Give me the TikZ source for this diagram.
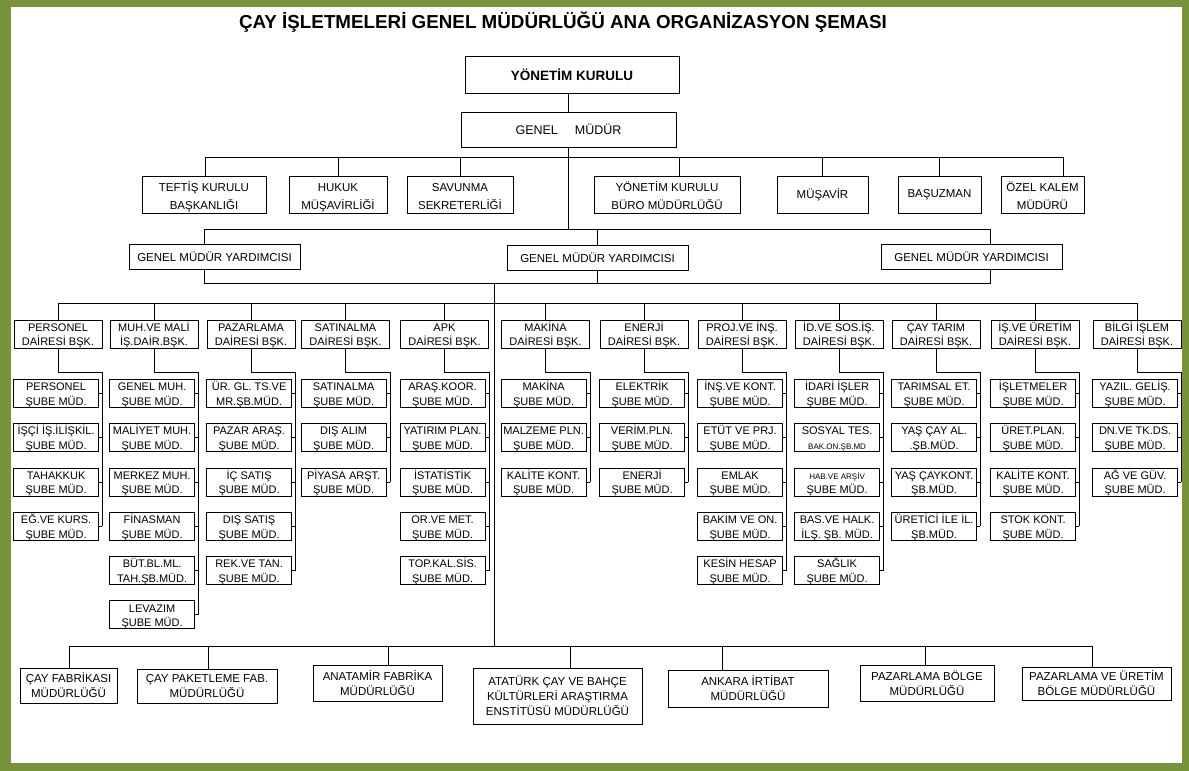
\documentclass[tikz,border=0pt]{standalone}
\usepackage{fontspec}
\setmainfont{Liberation Sans}
\usetikzlibrary{calc, positioning}
\definecolor{framegreen}{RGB}{119,147,60}

\begin{document}
\begin{tikzpicture}[x=1pt, y=-1pt, line width=0.8pt,
	kutu/.style={draw, align=center, inner sep=0pt},
	danisma/.style={kutu, minimum height=37pt, font=\fontsize{11.5}{18}\selectfont},
	ikisatir/.style={text height=33pt, text depth=4pt},
	yardimci/.style={kutu, minimum height=25pt, font=\fontsize{11.5}{14}\selectfont},
	daire/.style={kutu, minimum width=88pt, minimum height=28pt, text height=25.8pt, text depth=2.2pt, font=\fontsize{11}{14.5}\selectfont},
	sube/.style={daire, minimum width=85pt, anchor=east},
	bolge/.style={kutu, font=\fontsize{11.5}{15}\selectfont}]

		% frame
		\fill[framegreen] (0,0) rectangle (1189,771);
		\fill[white] (11,7) rectangle (1182,763);
		\useasboundingbox (0,0) rectangle (1189,771);

		\node[font=\bfseries\fontsize{18.8}{22}\selectfont] (title) at (563,22) {ÇAY İŞLETMELERİ GENEL MÜDÜRLÜĞÜ ANA ORGANİZASYON ŞEMASI};

		\node[kutu, minimum width=214pt, minimum height=37pt, font=\bfseries\fontsize{13.5}{16}\selectfont] (yk) at (572,74.5) {YÖNETİM KURULU};
		\node[kutu, minimum width=215pt, minimum height=35pt, font=\fontsize{12.5}{15}\selectfont] (gm) at (568.5,129.5) {GENEL\hspace{17pt}MÜDÜR};

		% staff units
		\node[danisma, ikisatir, minimum width=124pt] (teftis) at (204,194.5) {TEFTİŞ KURULU\\BAŞKANLIĞI};
		\node[danisma, ikisatir, minimum width=98pt] (hukuk) at (338,194.5) {HUKUK\\MÜŞAVİRLİĞİ};
		\node[danisma, ikisatir, minimum width=106pt] (savunma) at (460,194.5) {SAVUNMA\\SEKRETERLİĞİ};
		\node[danisma, ikisatir, minimum width=146pt] (ykburo) at (667,194.5) {YÖNETİM KURULU\\BÜRO MÜDÜRLÜĞÜ};
		\node[danisma, minimum width=91pt] (musavir) at (822.5,194.5) {MÜŞAVİR};
		\node[danisma, minimum width=83pt] (basuzman) at (939.5,194.5) {BAŞUZMAN};
		\node[danisma, ikisatir, minimum width=83pt] (ozel) at (1042.5,194.5) {ÖZEL KALEM\\MÜDÜRÜ};

		\node[yardimci, minimum width=171pt] (gmy1) at (214.5,257) {GENEL MÜDÜR YARDIMCISI};
		\node[yardimci, minimum width=181pt] (gmy2) at (597.5,258) {GENEL MÜDÜR YARDIMCISI};
		\node[yardimci, minimum width=181pt] (gmy3) at (971.5,257) {GENEL MÜDÜR YARDIMCISI};

		\coordinate (sbar) at (0,157);
		\coordinate (ytop) at (0,229);
		\coordinate (ybar) at (0,283);
		\coordinate (dbar) at (0,303);
		\coordinate (rail) at (0,372);
		\coordinate (bbar) at (0,646);
		\coordinate (trunk) at (494,283);

		\draw (gm.north) -- (gm.north |- yk.south);
		\draw (gm.south) -- (gm.south |- ytop);
		\draw ([xshift=1pt]teftis.north) |- ([xshift=20.5pt]ozel.north |- sbar) -- ([xshift=20.5pt]ozel.north);
		\draw ([xshift=12pt]ykburo.north) -- ([xshift=12pt]ykburo.north |- sbar);
		\foreach \n in {hukuk, savunma, musavir, basuzman}
			\draw (\n.north) -- (\n.north |- sbar);

		\draw ([xshift=-10.5pt]gmy1.north) |- ([xshift=18.5pt]gmy3.north |- ytop) -- ([xshift=18.5pt]gmy3.north);
		\draw (gmy2.north) -- (gmy2.north |- ytop);
		\draw ([xshift=-10.5pt]gmy1.south) |- ([xshift=18.5pt]gmy3.south |- ybar) -- ([xshift=18.5pt]gmy3.south);
		\draw (gmy2.south) -- (gmy2.south |- ybar);

		% departments
		\node[daire] (per) at (58,334) {PERSONEL\\DAİRESİ BŞK.};
		\node[daire] (muh) at (154,334) {MUH.VE MALİ\\İŞ.DAİR.BŞK.};
		\node[daire] (paz) at (251,334) {PAZARLAMA\\DAİRESİ BŞK.};
		\node[daire] (sat) at (345.5,334) {SATINALMA\\DAİRESİ BŞK.};
		\node[daire] (apk) at (444.5,334) {APK\\DAİRESİ BŞK.};
		\node[daire] (mak) at (545.5,334) {MAKİNA\\DAİRESİ BŞK.};
		\node[daire] (ene) at (644,334) {ENERJİ\\DAİRESİ BŞK.};
		\node[daire] (pro) at (742,334) {PROJ.VE İNŞ.\\DAİRESİ BŞK.};
		\node[daire] (ids) at (839,334) {İD.VE SOS.İŞ.\\DAİRESİ BŞK.};
		\node[daire] (cay) at (936,334) {ÇAY TARIM\\DAİRESİ BŞK.};
		\node[daire] (isu) at (1035,334) {İŞ.VE ÜRETİM\\DAİRESİ BŞK.};
		\node[daire] (bil) at (1137,334) {BİLGİ İŞLEM\\DAİRESİ BŞK.};

		\draw (per.north) |- (bil.north |- dbar) -- (bil.north);
		\foreach \n in {muh, paz, sat, apk, mak, ene, pro, ids, cay, isu}
			\draw (\n.north) -- (\n.north |- dbar);

		% sub units
		\foreach \lbl [count=\i] in {{PERSONEL\\ŞUBE MÜD.}, {İŞÇİ İŞ.İLİŞKİL.\\ŞUBE MÜD.}, {TAHAKKUK\\ŞUBE MÜD.}, {EĞ.VE KURS.\\ŞUBE MÜD.}}
			\node[sube] (per\i) at (99,{349+44.3*\i}) {\lbl};
		\foreach \lbl [count=\i] in {{GENEL MUH.\\ŞUBE MÜD.}, {MALİYET MUH.\\ŞUBE MÜD.}, {MERKEZ MUH.\\ŞUBE MÜD.}, {FİNASMAN\\ŞUBE MÜD.}, {BÜT.BL.ML.\\TAH.ŞB.MÜD.}, {LEVAZIM\\ŞUBE MÜD.}}
			\node[sube] (muh\i) at (195,{349+44.3*\i}) {\lbl};
		\foreach \lbl [count=\i] in {{ÜR. GL. TS.VE\\MR.ŞB.MÜD.}, {PAZAR ARAŞ.\\ŞUBE MÜD.}, {İÇ SATIŞ\\ŞUBE MÜD.}, {DIŞ SATIŞ\\ŞUBE MÜD.}, {REK.VE TAN.\\ŞUBE MÜD.}}
			\node[sube] (paz\i) at (292,{349+44.3*\i}) {\lbl};
		\foreach \lbl [count=\i] in {{SATINALMA\\ŞUBE MÜD.}, {DIŞ ALIM\\ŞUBE MÜD.}, {PİYASA ARŞT.\\ŞUBE MÜD.}}
			\node[sube] (sat\i) at (386.5,{349+44.3*\i}) {\lbl};
		\foreach \lbl [count=\i] in {{ARAŞ.KOOR.\\ŞUBE MÜD.}, {YATIRIM PLAN.\\ŞUBE MÜD.}, {İSTATİSTİK\\ŞUBE MÜD.}, {OR.VE MET.\\ŞUBE MÜD.}, {TOP.KAL.SİS.\\ŞUBE MÜD.}}
			\node[sube] (apk\i) at (485.5,{349+44.3*\i}) {\lbl};
		\foreach \lbl [count=\i] in {{MAKİNA\\ŞUBE MÜD.}, {MALZEME PLN.\\ŞUBE MÜD.}, {KALİTE KONT.\\ŞUBE MÜD.}}
			\node[sube] (mak\i) at (586.5,{349+44.3*\i}) {\lbl};
		\foreach \lbl [count=\i] in {{ELEKTRİK\\ŞUBE MÜD.}, {VERİM.PLN.\\ŞUBE MÜD.}, {ENERJİ\\ŞUBE MÜD.}}
			\node[sube] (ene\i) at (685,{349+44.3*\i}) {\lbl};
		\foreach \lbl [count=\i] in {{İNŞ.VE KONT.\\ŞUBE MÜD.}, {ETÜT VE PRJ.\\ŞUBE MÜD.}, {EMLAK\\ŞUBE MÜD.}, {BAKIM VE ON.\\ŞUBE MÜD.}, {KESİN HESAP\\ŞUBE MÜD.}}
			\node[sube] (pro\i) at (783,{349+44.3*\i}) {\lbl};
		\foreach \lbl [count=\i] in {{İDARİ İŞLER\\ŞUBE MÜD.}, {SOSYAL TES.\\{\fontsize{8}{10}\selectfont BAK.ON.ŞB.MD}}, {{\fontsize{8}{10}\selectfont HAB.VE ARŞİV}\\ŞUBE MÜD.}, {BAS.VE HALK.\\İLŞ. ŞB. MÜD.}, {SAĞLIK\\ŞUBE MÜD.}}
			\node[sube] (ids\i) at (880,{349+44.3*\i}) {\lbl};
		\foreach \lbl [count=\i] in {{TARIMSAL ET.\\ŞUBE MÜD.}, {YAŞ ÇAY AL.\\.ŞB.MÜD.}, {YAŞ ÇAYKONT.\\ŞB.MÜD.}, {ÜRETİCİ İLE İL.\\ŞB.MÜD.}}
			\node[sube] (cay\i) at (977,{349+44.3*\i}) {\lbl};
		\foreach \lbl [count=\i] in {{İŞLETMELER\\ŞUBE MÜD.}, {ÜRET.PLAN.\\ŞUBE MÜD.}, {KALİTE KONT.\\ŞUBE MÜD.}, {STOK KONT.\\ŞUBE MÜD.}}
			\node[sube] (isu\i) at (1076,{349+44.3*\i}) {\lbl};
		\foreach \lbl [count=\i] in {{YAZIL. GELİŞ.\\ŞUBE MÜD.}, {DN.VE TK.DS.\\ŞUBE MÜD.}, {AĞ VE GÜV.\\ŞUBE MÜD.}}
			\node[sube] (bil\i) at (1178,{349+44.3*\i}) {\lbl};

		% rails to sub units
		\foreach \n/\k in {per/4, muh/6, paz/5, sat/3, apk/5, mak/3, ene/3, pro/5, ids/5, cay/4, isu/4, bil/3} {
			\draw (\n.south) |- (\n.east |- rail) -- (\n.east |- \n\k.east);
			\foreach \i in {1,...,\k}
				\draw (\n\i.east) -- (\n.east |- \n\i.east);
		}

		% regional units
		\node[bolge, minimum width=97pt, minimum height=35pt] (fab) at (68.5,685.5) {ÇAY FABRİKASI\\MÜDÜRLÜĞÜ};
		\node[bolge, minimum width=140pt, minimum height=34pt] (pak) at (207,686) {ÇAY PAKETLEME FAB.\\MÜDÜRLÜĞÜ};
		\node[bolge, minimum width=129pt, minimum height=36pt] (ana) at (377.5,683) {ANATAMİR FABRİKA\\MÜDÜRLÜĞÜ};
		\node[bolge, minimum width=169pt, minimum height=56pt] (ata) at (557.5,696) {ATATÜRK ÇAY VE BAHÇE\\KÜLTÜRLERİ ARAŞTIRMA\\ENSTİTÜSÜ MÜDÜRLÜĞÜ};
		\node[bolge, minimum width=160pt, minimum height=37pt] (ank) at (748,688.5) {ANKARA İRTİBAT\\MÜDÜRLÜĞÜ};
		\node[bolge, minimum width=134pt, minimum height=36pt] (pbm) at (927,683) {PAZARLAMA BÖLGE\\MÜDÜRLÜĞÜ};
		\node[bolge, minimum width=149pt, minimum height=33pt] (pum) at (1096.5,683.5) {PAZARLAMA VE ÜRETİM\\BÖLGE MÜDÜRLÜĞÜ};

		\draw (trunk) -- (trunk |- bbar);
		\draw ([xshift=0.5pt]fab.north) |- ([xshift=-4.5pt]pum.north |- bbar) -- ([xshift=-4.5pt]pum.north);
		\draw ([xshift=1pt]pak.north) -- ([xshift=1pt]pak.north |- bbar);
		\draw ([xshift=10.5pt]ana.north) -- ([xshift=10.5pt]ana.north |- bbar);
		\draw ([xshift=12.5pt]ata.north) -- ([xshift=12.5pt]ata.north |- bbar);
		\draw ([xshift=-26pt]ank.north) -- ([xshift=-26pt]ank.north |- bbar);
		\draw ([xshift=-2pt]pbm.north) -- ([xshift=-2pt]pbm.north |- bbar);

	\end{tikzpicture}
\end{document}
